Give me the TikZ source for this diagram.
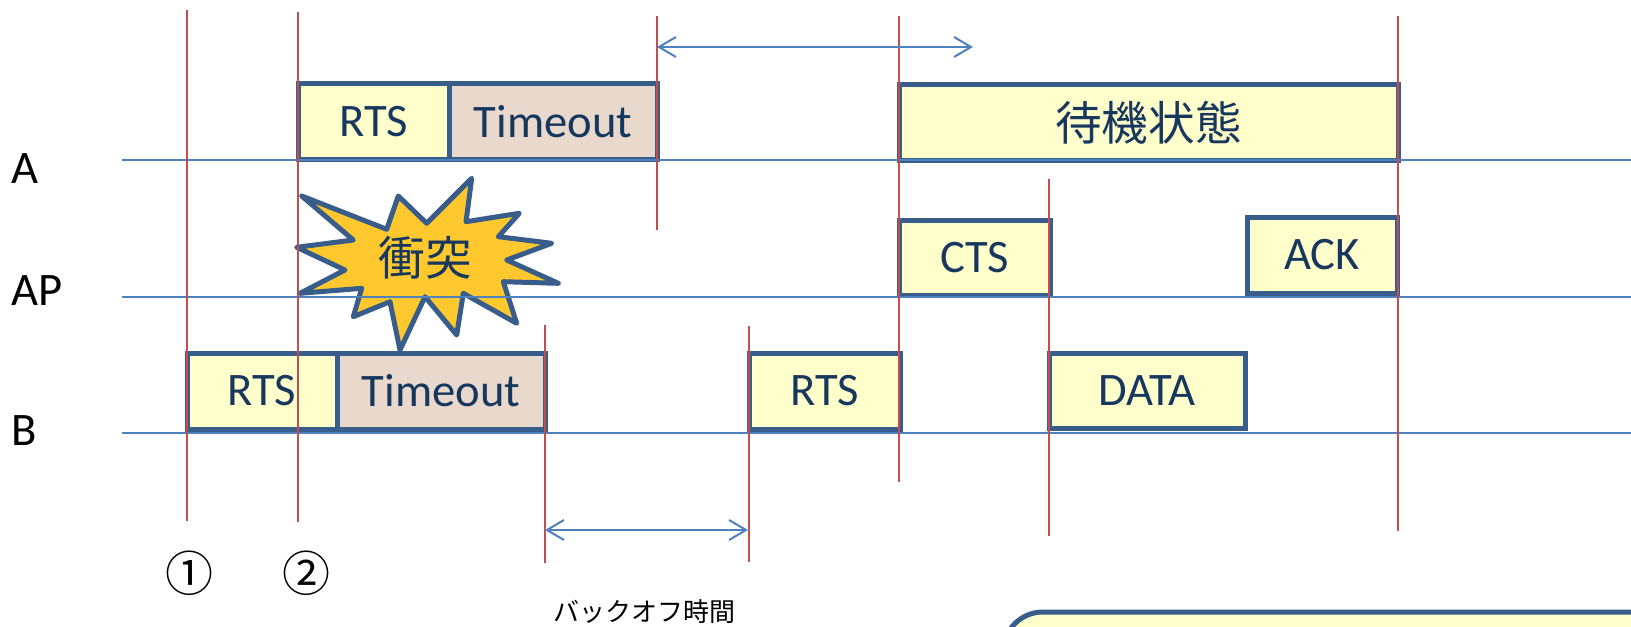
\documentclass[tikz,border=0pt]{standalone}
\usepackage{fontspec}
\setmainfont{Carlito}
\newfontfamily\jp{Noto Sans CJK JP}
\usetikzlibrary{arrows.meta}
\definecolor{boxline}{HTML}{385D8A}
\definecolor{yel}{HTML}{FFFFCC}
\definecolor{tan}{HTML}{E9D9CC}
\definecolor{txt}{HTML}{17375E}
\definecolor{lineblue}{HTML}{4F81BD}
\definecolor{linered}{HTML}{C0504D}
\definecolor{burstfill}{HTML}{FFC82E}
\begin{document}
\begin{tikzpicture}[x=0.5pt,y=-0.5pt,
  seg/.style={draw=boxline, line width=2.5pt, inner sep=0pt, text=txt,
    font=\fontsize{23.3}{28}\selectfont},
  yseg/.style={seg, fill=yel},
  tseg/.style={seg, fill=tan},
  lbl/.style={anchor=base west, inner sep=0pt, font=\fontsize{23.3}{28}\selectfont},
  tline/.style={draw=lineblue, line width=1pt},
  rline/.style={draw=linered, line width=1pt},
  dimarrow/.style={draw=lineblue, line width=1pt,
    {Straight Barb[length=8.5pt,width=10pt]}-{Straight Barb[length=8.5pt,width=10pt]}},
  burst/.style={draw=boxline, fill=burstfill, line width=2.5pt, line join=round},
]
\useasboundingbox (0,0) rectangle (1631,626);
\fill[white] (0,0) rectangle (1631,626);

% bottom-right rounded box (cut off)
\begin{scope}
\clip (0,0) rectangle (1631,626);
\draw[draw=boxline, fill=yel, line width=2.5pt, rounded corners=20pt] (1003,612) rectangle (1720,760);
\end{scope}

% row labels
\node[lbl] (lA) at (11,183) {A};
\node[lbl] (lAP) at (11,305) {AP};
\node[lbl] (lB) at (11,445) {B};

% boxes on A
\node[yseg, minimum width=75.5pt, minimum height=37.5pt] (rtsA) at (373.5,121.5) {RTS};
\node[tseg, minimum width=104pt, minimum height=37.5pt] (toA) at (553,121.5) {Timeout};
\node[yseg, minimum width=249.5pt, minimum height=37.5pt, font=\jp\fontsize{23.3}{28}\selectfont] (wait) at (1148.5,122.5) {待機状態};

% boxes on AP
\node[yseg, minimum width=75.5pt, minimum height=37.5pt] (cts) at (974.5,257.5) {CTS};
\node[yseg, minimum width=75pt, minimum height=38pt] (ack) at (1322,255) {ACK};

% boxes on B
\node[yseg, minimum width=75pt, minimum height=38pt] (rtsB) at (262,391) {RTS};
\node[tseg, minimum width=104pt, minimum height=38pt] (toB) at (441,391) {Timeout};
\node[yseg, minimum width=75.5pt, minimum height=38pt] (rts2) at (824.5,391) {RTS};
\node[yseg, minimum width=98pt, minimum height=37.5pt] (data) at (1147,390.5) {DATA};

% collision burst
\draw[burst] (301.7,196) -- (386.7,229.3) -- (398.3,196) -- (426.7,223.3) -- (471.7,178.3)
  -- (466,221.7) -- (519.3,213.3) -- (498.3,236.7) -- (551.7,243.3) -- (506.7,260)
  -- (558.3,283.3) -- (503.3,281.7) -- (516.7,323.3) -- (463.3,293.3) -- (456.7,335)
  -- (425,296.7) -- (400,350) -- (390,301.7) -- (353.3,316.7) -- (361.7,288.3)
  -- (300,293.3) -- (345,270) -- (296.7,247.3) -- (353.3,240) -- cycle;
\node[inner sep=0pt, text=txt, font=\jp\fontsize{23.3}{28}\selectfont] (clash) at (425,258) {衝突};

% timelines
\coordinate (A0) at (122,160); \coordinate (A1) at (1631,160);
\coordinate (P0) at (122,296.5); \coordinate (P1) at (1631,296.5);
\coordinate (B0) at (122,432.5); \coordinate (B1) at (1631,432.5);
\draw[tline] (A0) -- (A1);
\draw[tline] (P0) -- (P1);
\draw[tline] (B0) -- (B1);

% red markers
\coordinate (r1t) at (187,10);   \coordinate (r1b) at (187,521);
\coordinate (r2t) at (298,12);   \coordinate (r2b) at (298,522);
\coordinate (r3t) at (657,16);   \coordinate (r3b) at (657,230);
\coordinate (r4t) at (899,16);   \coordinate (r4b) at (899,482);
\coordinate (r5t) at (1049,179); \coordinate (r5b) at (1049,536);
\coordinate (r6t) at (1398,16);  \coordinate (r6b) at (1398,531);
\coordinate (r7t) at (545,325);  \coordinate (r7b) at (545,563);
\coordinate (r8t) at (749,326);  \coordinate (r8b) at (749,562);
\foreach \i in {1,...,8} {\draw[rline] (r\i t) -- (r\i b);}

% dimension arrows
\coordinate (ta) at (657,47); \coordinate (tb) at (973,47);
\draw[dimarrow] (ta) -- (tb);
\coordinate (ba) at (545,530); \coordinate (bb) at (748,530);
\draw[dimarrow] (ba) -- (bb);
\node[inner sep=0pt, font=\jp\fontsize{13}{16}\selectfont] (backoff) at (644,612) {バックオフ時間};

% circled numbers
\node[inner sep=0pt, font=\jp\fontsize{24}{28}\selectfont] (n1) at (189,573) {①};
\node[inner sep=0pt, font=\jp\fontsize{24}{28}\selectfont] (n2) at (306,573) {②};
\end{tikzpicture}
\end{document}
